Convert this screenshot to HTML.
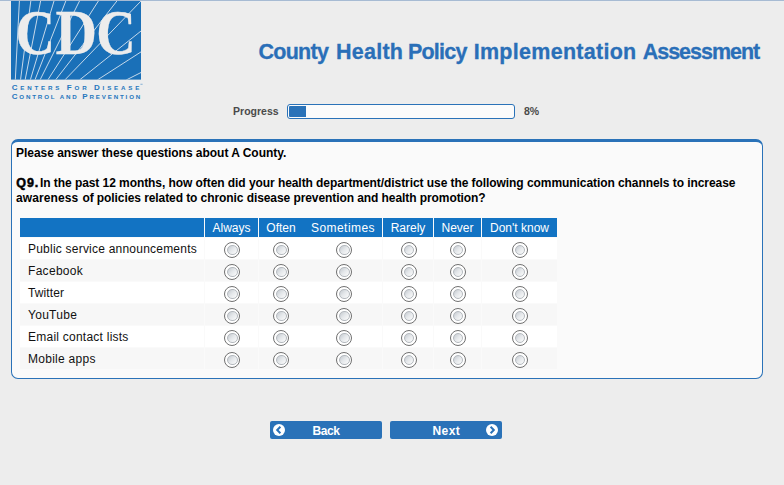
<!DOCTYPE html>
<html><head><meta charset="utf-8">
<style>
html,body{margin:0;padding:0;}
body{width:784px;height:485px;background:#ededed;position:relative;overflow:hidden;font-family:"Liberation Sans",sans-serif;font-size:12px;color:#000;}
.abs{position:absolute;}
#topline{left:0;top:0;width:784px;height:1px;background:#a7bbd3;}
#topline2{left:0;top:1px;width:784px;height:1px;background:#eceef0;}
.tw{-webkit-text-stroke:0.3px #2a6fb8;top:38.3px;height:28px;line-height:28px;font-size:21.5px;font-weight:bold;color:#2a6fb8;white-space:nowrap;}
#plabel{left:233px;top:105.4px;font-size:10.5px;font-weight:bold;color:#4a4a4a;line-height:13px;letter-spacing:0.02px;}
#pbar{left:287px;top:104px;width:226px;height:13px;border:1px solid #2a72b8;border-radius:3px;background:#fbfbfb;box-sizing:content-box;}
#pfill{left:288.7px;top:105.8px;width:17.8px;height:11.4px;background:#2a72b8;border-radius:1px 0 0 1px;}
#ppct{left:524px;top:105.4px;font-size:10.5px;font-weight:bold;color:#4a4a4a;line-height:13px;letter-spacing:0px;}
#panel{left:11px;top:139px;width:750px;height:236px;border:1px solid #2a72b8;border-top:3px solid #2a72b8;border-radius:7px;background:#fafafa;}
.q{left:16px;font-weight:bold;font-size:12px;line-height:15px;white-space:nowrap;color:#000;}
.hd{top:218px;height:19px;background:#1273c3;color:#fff;text-align:center;line-height:20px;font-size:12px;white-space:nowrap;}
.row{left:20px;width:537px;}
.vsep{top:237px;width:1.2px;height:133px;background:#fafafa;}
.rl{left:28px;font-size:12px;line-height:14px;white-space:nowrap;color:#111;}
.rad{width:14px;height:14px;border:1px solid #707070;border-radius:50%;background:#fff;}
.rad i{position:absolute;left:2px;top:2px;width:8.6px;height:8.6px;border:0.7px solid #b4b9be;border-radius:50%;background:linear-gradient(135deg,#c3c9cf 0%,#e4e7ea 45%,#fcfcfc 100%);}
.btn{top:421px;width:112px;height:18px;background:#2a72b8;border-radius:2px;color:#fff;font-weight:bold;font-size:12px;line-height:20px;letter-spacing:-0.2px;}
#q9{font-size:12.5px;letter-spacing:0.9px;-webkit-text-stroke:0.5px #000;margin-left:0.3px;margin-right:-2.4px;}
</style></head><body>
<div class="abs" id="topline"></div><div class="abs" id="topline2"></div>
<svg class="abs" id="logo" role="img" aria-label="CDC - Centers for Disease Control and Prevention" viewBox="0 0 150 104" width="150" height="104" style="left:0;top:0;width:150px;height:104px;">
<rect x="11" y="1" width="130" height="78.6" fill="#1a70b8"/>
<clipPath id="lc"><rect x="11" y="1" width="130" height="78.6"/></clipPath>
<g stroke="#f0f3f6" stroke-width="0.8" fill="none" clip-path="url(#lc)">
<line x1="15.3" y1="80" x2="19.4" y2="1"/>
<line x1="20.5" y1="80" x2="30.8" y2="1"/>
<line x1="25.1" y1="80" x2="40.6" y2="1"/>
<line x1="30.3" y1="80" x2="54" y2="1"/>
<line x1="34.9" y1="80" x2="65.8" y2="1"/>
<line x1="40" y1="80" x2="79.5" y2="1"/>
<line x1="47.8" y1="80" x2="98.4" y2="1"/>
<line x1="55.5" y1="80" x2="116.9" y2="1"/>
<line x1="64.8" y1="80" x2="141" y2="1"/>
<line x1="79.5" y1="80" x2="141" y2="31"/>
<line x1="97.3" y1="80" x2="141" y2="51.9"/>
<line x1="126.2" y1="80" x2="141" y2="72.5"/>
</g>
<g fill="#ececec" stroke="#ececec" stroke-width="0.3" stroke-linejoin="round" font-family="'Liberation Serif',serif" font-weight="bold" font-size="64">
<text x="15.5" y="54.2" textLength="39.5" lengthAdjust="spacingAndGlyphs">C</text>
<text x="55.5" y="54.2" textLength="41.5" lengthAdjust="spacingAndGlyphs">D</text>
<text x="96.2" y="54.2" textLength="39.5" lengthAdjust="spacingAndGlyphs">C</text>
</g>
<g fill="#2577bd" font-family="'Liberation Sans',sans-serif" font-weight="bold" font-size="6.2">
<text x="11.64" y="90.2" textLength="127.8" lengthAdjust="spacing"><tspan font-size="8">C</tspan>ENTERS <tspan font-size="8">F</tspan>OR <tspan font-size="8">D</tspan>ISEASE</text>
<text x="11.64" y="99.1" textLength="128.7" lengthAdjust="spacing"><tspan font-size="8">C</tspan>ONTROL AND <tspan font-size="8">P</tspan>REVENTION</text>
</g>
<rect x="140.4" y="83.7" width="2.2" height="1.3" fill="#2577bd" opacity="0.4"/>
</svg>
<div class="abs tw" style="left:258.6px;letter-spacing:-0.76px;">County</div><div class="abs tw" style="left:336.1px;letter-spacing:0.22px;">Health</div><div class="abs tw" style="left:407.9px;letter-spacing:-0.75px;">Policy</div><div class="abs tw" style="left:473.7px;letter-spacing:0.28px;">Implementation</div><div class="abs tw" style="left:642.7px;letter-spacing:-1.02px;">Assessment</div>
<div class="abs" id="plabel">Progress</div>
<div class="abs" id="pbar"></div><div class="abs" id="pfill"></div>
<div class="abs" id="ppct">8%</div>
<div class="abs" id="panel"></div>
<div class="abs q" style="top:146px;letter-spacing:-0.03px;">Please answer these questions about A County.</div>
<div class="abs q" style="top:176px;letter-spacing:-0.067px;"><span id="q9">Q9.</span> In the past 12 months, how often did your health department/district use the following communication channels to increase</div>
<div class="abs q" style="top:191px;letter-spacing:0.1px;">awareness</div><div class="abs q" style="top:191px;left:82.4px;letter-spacing:-0.078px;">of policies related to chronic disease prevention and health promotion?</div>
<!-- header -->
<div class="abs hd" style="left:20px;width:184px;"></div>
<div class="abs hd" style="left:205px;width:53px;">Always</div>
<div class="abs hd" style="left:259px;width:44px;padding-right:1px;">Often</div>
<div class="abs hd" style="left:304px;width:78px;letter-spacing:0.45px;">Sometimes</div>
<div class="abs hd" style="left:383px;width:50px;">Rarely</div>
<div class="abs hd" style="left:434px;width:47px;">Never</div>
<div class="abs hd" style="left:482px;width:75px;">Don't know</div>
<div class="abs row" style="top:237.9px;height:21.6px;background:#ffffff"></div>
<div class="abs rl" style="top:242px;letter-spacing:0.22px;">Public service announcements</div>
<div class="abs rad" style="left:224.1px;top:241.7px;"><i></i></div><div class="abs rad" style="left:273px;top:241.7px;"><i></i></div><div class="abs rad" style="left:336px;top:241.7px;"><i></i></div><div class="abs rad" style="left:400.5px;top:241.7px;"><i></i></div><div class="abs rad" style="left:449.5px;top:241.7px;"><i></i></div><div class="abs rad" style="left:511.5px;top:241.7px;"><i></i></div>
<div class="abs row" style="top:260.0px;height:21.2px;background:#f7f7f7"></div>
<div class="abs rl" style="top:264px;letter-spacing:0.3px;">Facebook</div>
<div class="abs rad" style="left:224.1px;top:263.7px;"><i></i></div><div class="abs rad" style="left:273px;top:263.7px;"><i></i></div><div class="abs rad" style="left:336px;top:263.7px;"><i></i></div><div class="abs rad" style="left:400.5px;top:263.7px;"><i></i></div><div class="abs rad" style="left:449.5px;top:263.7px;"><i></i></div><div class="abs rad" style="left:511.5px;top:263.7px;"><i></i></div>
<div class="abs row" style="top:281.9px;height:21.6px;background:#ffffff"></div>
<div class="abs rl" style="top:286px;letter-spacing:0.1px;">Twitter</div>
<div class="abs rad" style="left:224.1px;top:285.7px;"><i></i></div><div class="abs rad" style="left:273px;top:285.7px;"><i></i></div><div class="abs rad" style="left:336px;top:285.7px;"><i></i></div><div class="abs rad" style="left:400.5px;top:285.7px;"><i></i></div><div class="abs rad" style="left:449.5px;top:285.7px;"><i></i></div><div class="abs rad" style="left:511.5px;top:285.7px;"><i></i></div>
<div class="abs row" style="top:304.0px;height:21.2px;background:#f7f7f7"></div>
<div class="abs rl" style="top:308px;letter-spacing:0.28px;">YouTube</div>
<div class="abs rad" style="left:224.1px;top:307.7px;"><i></i></div><div class="abs rad" style="left:273px;top:307.7px;"><i></i></div><div class="abs rad" style="left:336px;top:307.7px;"><i></i></div><div class="abs rad" style="left:400.5px;top:307.7px;"><i></i></div><div class="abs rad" style="left:449.5px;top:307.7px;"><i></i></div><div class="abs rad" style="left:511.5px;top:307.7px;"><i></i></div>
<div class="abs row" style="top:325.9px;height:21.6px;background:#ffffff"></div>
<div class="abs rl" style="top:330px;letter-spacing:0.24px;">Email contact lists</div>
<div class="abs rad" style="left:224.1px;top:329.7px;"><i></i></div><div class="abs rad" style="left:273px;top:329.7px;"><i></i></div><div class="abs rad" style="left:336px;top:329.7px;"><i></i></div><div class="abs rad" style="left:400.5px;top:329.7px;"><i></i></div><div class="abs rad" style="left:449.5px;top:329.7px;"><i></i></div><div class="abs rad" style="left:511.5px;top:329.7px;"><i></i></div>
<div class="abs row" style="top:348.0px;height:21.2px;background:#f7f7f7"></div>
<div class="abs rl" style="top:352px;letter-spacing:0.27px;">Mobile apps</div>
<div class="abs rad" style="left:224.1px;top:351.7px;"><i></i></div><div class="abs rad" style="left:273px;top:351.7px;"><i></i></div><div class="abs rad" style="left:336px;top:351.7px;"><i></i></div><div class="abs rad" style="left:400.5px;top:351.7px;"><i></i></div><div class="abs rad" style="left:449.5px;top:351.7px;"><i></i></div><div class="abs rad" style="left:511.5px;top:351.7px;"><i></i></div>
<div class="abs vsep" style="left:204px;"></div><div class="abs vsep" style="left:258px;"></div><div class="abs vsep" style="left:382px;"></div><div class="abs vsep" style="left:433px;"></div><div class="abs vsep" style="left:481px;"></div>

<div class="abs btn" style="left:270px;"><svg class="abs" style="left:3px;top:3px;" width="12" height="12" viewBox="0 0 12 12"><circle cx="6" cy="6" r="6" fill="#fff"/><path d="M7.4 2.8 L4.2 6 L7.4 9.2" stroke="#2a72b8" stroke-width="2" fill="none"/></svg><span class="abs" style="left:42.5px;top:0;letter-spacing:-0.45px;">Back</span></div>
<div class="abs btn" style="left:390px;"><svg class="abs" style="left:96.2px;top:3px;" width="12" height="12" viewBox="0 0 12 12"><circle cx="6" cy="6" r="6" fill="#fff"/><path d="M4.6 2.8 L7.8 6 L4.6 9.2" stroke="#2a72b8" stroke-width="2" fill="none"/></svg><span class="abs" style="left:42.5px;top:0;letter-spacing:0.45px;">Next</span></div>
</body></html>
